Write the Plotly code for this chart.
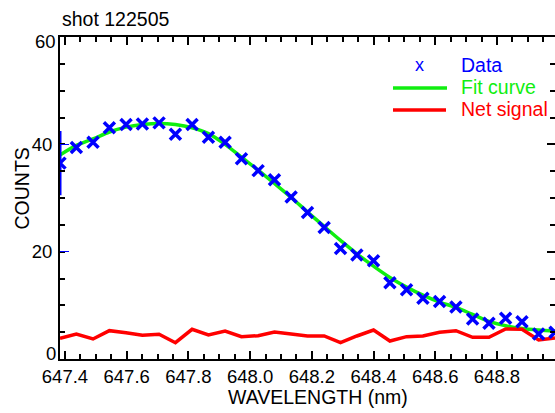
import plotly.graph_objects as go

# ---- data ----
wavelength = [647.384, 647.437, 647.491, 647.544, 647.598, 647.651, 647.705, 647.758,
              647.812, 647.865, 647.919, 647.972, 648.026, 648.079, 648.133, 648.186,
              648.240, 648.293, 648.346, 648.400, 648.453, 648.507, 648.560, 648.614,
              648.667, 648.721, 648.774, 648.828, 648.881, 648.935, 648.988]
counts = [36.5, 39.4, 40.4, 43.1, 43.7, 43.8, 44.0, 41.9, 43.7, 41.3, 40.4, 37.3,
          35.1, 33.4, 30.2, 27.3, 24.5, 20.6, 19.4, 18.3, 14.2, 12.9, 11.3, 10.7,
          9.7, 7.45, 6.65, 7.6, 6.95, 4.65, 4.97]
fit_curve = [38.0, 39.8, 41.0, 42.3, 43.2, 43.7, 43.9, 43.7, 43.1, 42.0, 40.0, 37.6,
             35.2, 32.7, 30.1, 27.4, 24.7, 22.1, 19.6, 17.3, 15.2, 13.4, 11.9, 10.6,
             9.6, 8.3, 7.0, 6.2, 5.7, 5.4, 5.2]
net_signal = [3.85, 4.66, 3.73, 5.28, 4.91, 4.41, 4.60, 3.04, 5.53, 4.47, 5.22, 4.16,
              4.35, 5.03, 4.66, 4.29, 4.29, 3.04, 4.29, 5.40, 3.35, 4.16, 4.29, 4.97,
              5.28, 4.04, 4.04, 5.59, 5.53, 3.54, 3.91]
first_error = [6.0]  # error bar drawn on the first data point only

x_tickvals = [647.4, 647.6, 647.8, 648.0, 648.2, 648.4, 648.6, 648.8]
x_ticktext = ["647.4", "647.6", "647.8", "648.0", "648.2", "648.4", "648.6", "648.8"]
y_tickvals = [0, 20, 40, 60]
y_ticktext = ["0", "20", "40", "60"]

legend_labels = ["Data", "Fit curve", "Net signal"]

FONT = "Liberation Sans, Arial, Helvetica, sans-serif"
BLUE = "#0000ff"
GREEN = "#10ee10"
RED = "#ff0000"

fig = go.Figure()

fig.add_trace(go.Scatter(
    x=wavelength, y=fit_curve, mode="lines", line_shape="spline",
    line=dict(color=GREEN, width=3.5), name=legend_labels[1]))

fig.add_trace(go.Scatter(
    x=wavelength, y=net_signal, mode="lines",
    line=dict(color=RED, width=3.5), name=legend_labels[2]))

fig.add_trace(go.Scatter(
    x=wavelength[:1], y=counts[:1], mode="markers",
    marker=dict(size=1, color="rgba(0,0,0,0)"),
    error_y=dict(type="data", array=first_error, color=BLUE, thickness=3, width=0),
    showlegend=False, cliponaxis=False, hoverinfo="skip"))

fig.add_trace(go.Scatter(
    x=wavelength, y=counts, mode="markers",
    marker=dict(symbol="x-thin", size=11, color=BLUE,
                line=dict(color=BLUE, width=3.5)),
    name=legend_labels[0]))

# dummy invisible trace to activate the right-hand y axis
fig.add_trace(go.Scatter(x=wavelength[:1], y=counts[:1], yaxis="y2", mode="markers",
                         marker=dict(opacity=0), showlegend=False, hoverinfo="skip"))

tick_font = dict(family=FONT, size=18.5, color="black")
text_font = 19.5

def px_x(p):
    return (p - 60) / 495.0

def px_y(p):
    return (359 - p) / 322.0

annotations = [
    dict(text="WAVELENGTH (nm)", xref="paper", yref="paper", x=px_x(318), y=px_y(397),
         xanchor="center", yanchor="middle", showarrow=False,
         font=dict(family=FONT, size=text_font, color="black")),
    dict(text="COUNTS", xref="paper", yref="paper", x=px_x(21.5), y=px_y(189),
         xanchor="center", yanchor="middle", textangle=-90, showarrow=False,
         font=dict(family=FONT, size=text_font, color="black")),
    # end labels of the y axis, nudged inward as in the reference
    dict(text=y_ticktext[0], xref="paper", yref="paper", x=px_x(57.5), y=px_y(353),
         xanchor="right", yanchor="middle", showarrow=False, font=tick_font),
    dict(text=y_ticktext[3], xref="paper", yref="paper", x=px_x(57.5), y=px_y(42),
         xanchor="right", yanchor="middle", showarrow=False, font=tick_font),
    # legend
    dict(text="x", xref="paper", yref="paper", x=px_x(419), y=px_y(65),
         xanchor="center", yanchor="middle", showarrow=False,
         font=dict(family=FONT, size=18, color=BLUE)),
    dict(text=legend_labels[0], xref="paper", yref="paper", x=px_x(459), y=px_y(65),
         xanchor="left", yanchor="middle", showarrow=False,
         font=dict(family=FONT, size=text_font, color=BLUE)),
    dict(text=legend_labels[1], xref="paper", yref="paper", x=px_x(459), y=px_y(87),
         xanchor="left", yanchor="middle", showarrow=False,
         font=dict(family=FONT, size=text_font, color=GREEN)),
    dict(text=legend_labels[2], xref="paper", yref="paper", x=px_x(459), y=px_y(109),
         xanchor="left", yanchor="middle", showarrow=False,
         font=dict(family=FONT, size=text_font, color=RED)),
]

shapes = [
    dict(type="line", xref="paper", yref="paper", x0=px_x(393), x1=px_x(447),
         y0=px_y(88), y1=px_y(88), line=dict(color=GREEN, width=3.5)),
    dict(type="line", xref="paper", yref="paper", x0=px_x(393), x1=px_x(446),
         y0=px_y(110), y1=px_y(110), line=dict(color=RED, width=3.5)),
]

fig.update_layout(
    width=555, height=413,
    margin=dict(l=60, r=0, t=37, b=54),
    paper_bgcolor="white", plot_bgcolor="white",
    font=tick_font,
    showlegend=False,
    title=dict(text="shot 122505", x=px_x(62), xref="paper", xanchor="left",
               y=1 - 19 / 413, yref="container", yanchor="middle",
               font=dict(family=FONT, size=text_font, color="black")),
    xaxis=dict(range=[wavelength[0], wavelength[-1]], tickvals=x_tickvals,
               ticktext=x_ticktext, ticks="inside", ticklen=8, tickwidth=1.5,
               tickcolor="black", showline=True, linecolor="black", linewidth=2,
               mirror="ticks", showgrid=False, zeroline=False,
               tickfont=tick_font, ticklabelstandoff=0,
               minor=dict(dtick=0.05, tick0=647.4, ticks="inside", ticklen=5,
                          tickwidth=1.5, tickcolor="black", showgrid=False)),
    yaxis=dict(range=[0, 60], tickvals=y_tickvals,
               ticktext=["", y_ticktext[1], y_ticktext[2], ""],
               ticks="inside", ticklen=9,
               tickwidth=1, tickcolor=BLUE, showline=True, linecolor="black",
               linewidth=2, showgrid=False, zeroline=False, tickfont=tick_font,
               ticklabelstandoff=2,
               minor=dict(dtick=5, ticks="inside", ticklen=5, tickwidth=1.5,
                          tickcolor="black", showgrid=False)),
    yaxis2=dict(range=[0, 60], overlaying="y", side="right", tickvals=y_tickvals,
                ticks="inside", ticklen=8, tickwidth=1.5, tickcolor="black",
                showticklabels=False, showline=True, linecolor="black",
                linewidth=2, showgrid=False, zeroline=False,
                minor=dict(dtick=5, ticks="inside", ticklen=5, tickwidth=1.5,
                           tickcolor="black", showgrid=False)),
    annotations=annotations,
    shapes=shapes,
)

fig.write_html("out.html")
